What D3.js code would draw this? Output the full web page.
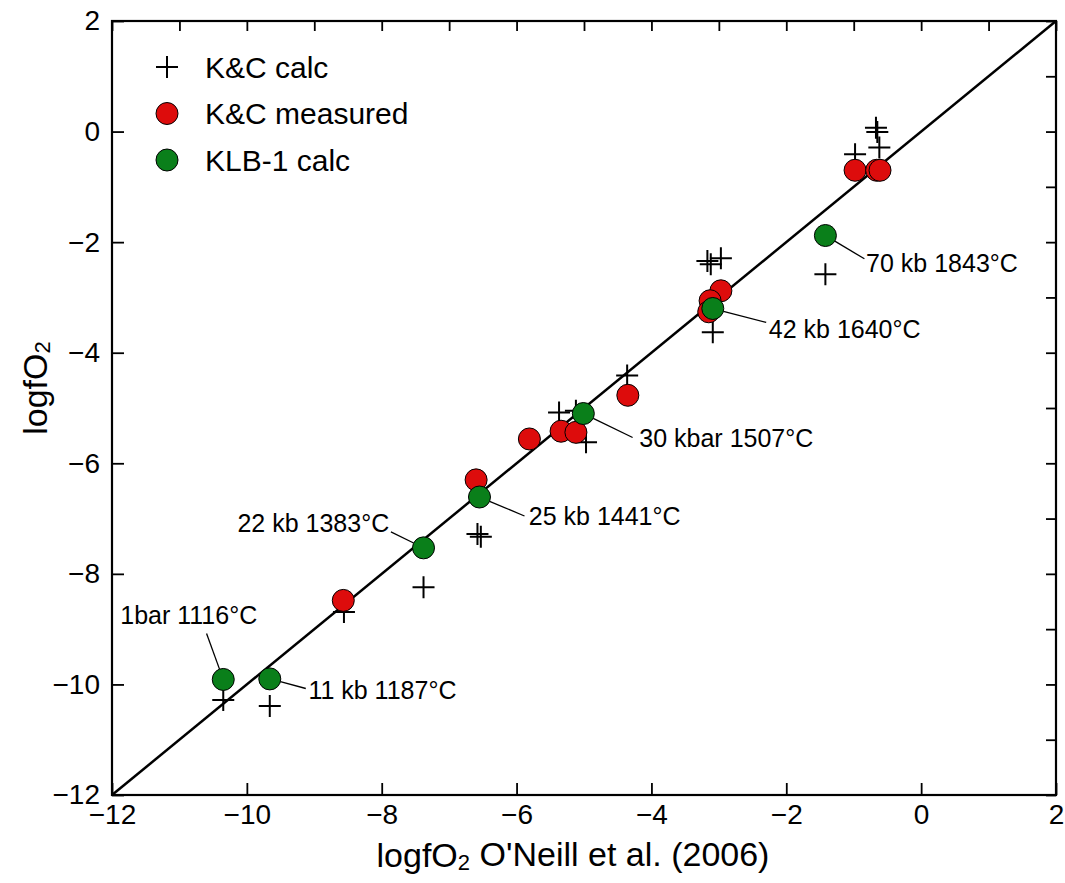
<!DOCTYPE html>
<html>
<head>
<meta charset="utf-8">
<script src="https://cdn.jsdelivr.net/npm/d3@7"></script>
<style>
  body { margin: 0; background: #fff; }
  svg text { font-family: "Liberation Sans", Arial, Helvetica, sans-serif; fill: #000; }
</style>
</head>
<body>
<svg id="chart" width="1065" height="883"></svg>
<script>
const WIDTH = 1065;
const HEIGHT = 883;
const M = { left: 112, right: 9, top: 21, bottom: 88 };

// K&C calc (crosses)
const calcX = [-0.98, -0.67, -0.65, -0.62, -3.17, -3.12, -2.97, -3.09, -1.42,
  -4.36, -5.37, -5.12, -4.97, -6.58, -6.53, -8.56, -7.38, -10.35, -9.66];
const calcY = [-0.41, 0.07, -0.01, -0.29, -2.34, -2.40, -2.29, -3.63, -2.58,
  -4.41, -5.08, -5.05, -5.62, -7.28, -7.33, -8.69, -8.24, -10.28, -10.39];

// K&C measured (red)
const measX = [-0.98, -0.66, -0.61, -2.97, -3.13, -3.15, -4.35, -5.34, -5.12, -5.81, -6.60, -8.57];
const measY = [-0.70, -0.70, -0.70, -2.88, -3.06, -3.26, -4.77, -5.42, -5.44, -5.56, -6.30, -8.48];

// KLB-1 calc (green)
const klbX = [-10.35, -9.66, -7.38, -6.55, -5.01, -3.09, -1.42];
const klbY = [-9.91, -9.90, -7.53, -6.61, -5.10, -3.20, -1.88];
const klbLabels = ["1bar 1116°C", "11 kb 1187°C", "22 kb 1383°C", "25 kb 1441°C",
  "30 kbar 1507°C", "42 kb 1640°C", "70 kb 1843°C"];

const majorTicks = [-12, -10, -8, -6, -4, -2, 0, 2];
const allTicks = [-12, -11, -10, -9, -8, -7, -6, -5, -4, -3, -2, -1, 0, 1, 2];
const legendNames = ["K&C calc", "K&C measured", "KLB-1 calc"];

// label layout: text dx, baseline dy, anchor, leader end dx, dy (pixels from point)
const labelLayout = [
  [-34.5, -55, "middle", -16.7, -46],
  [38.6, 20.3, "start", 36, 9.6],
  [-34.3, -15.7, "end", -32.6, -16],
  [49.3, 28.3, "start", 45, 19],
  [56, 33.7, "start", 49.3, 24],
  [56, 29.3, "start", 53.4, 14],
  [40.7, 36, "start", 39, 23.3]
];

const RED = "#dd0c0c";
const GREEN = "#0a7f1a";
const R = 11;
const CROSS = 11;

const svg = d3.select("#chart");
const x = d3.scaleLinear().domain([-12, 2]).range([M.left, WIDTH - M.right]);
const y = d3.scaleLinear().domain([-12, 2]).range([HEIGHT - M.bottom, M.top]);

const crossPath = (cx, cy, s) =>
  `M${cx - s},${cy}H${cx + s}M${cx},${cy - s}V${cy + s}`;

// 1:1 line
svg.append("line")
  .attr("x1", x(-12)).attr("y1", y(-12))
  .attr("x2", x(2)).attr("y2", y(2))
  .attr("stroke", "#000").attr("stroke-width", 2.5);

// axes
const bottomG = svg.append("g").attr("transform", `translate(0,${y(-12)})`);
bottomG.call(d3.axisBottom(x).tickValues(allTicks).tickSize(-5).tickFormat(""));
bottomG.call(d3.axisBottom(x).tickValues(majorTicks).tickSize(-12).tickPadding(9));

const leftG = svg.append("g").attr("transform", `translate(${x(-12)},0)`);
leftG.call(d3.axisLeft(y).tickValues(allTicks).tickSize(-5).tickFormat(""));
leftG.call(d3.axisLeft(y).tickValues(majorTicks).tickSize(-12).tickPadding(12));

svg.append("g").attr("transform", `translate(0,${y(2)})`)
  .call(d3.axisTop(x).tickValues(allTicks).tickSize(-10).tickFormat(""));
svg.append("g").attr("transform", `translate(${x(2)},0)`)
  .call(d3.axisRight(y).tickValues(allTicks).tickSize(-10).tickFormat(""));

svg.selectAll(".domain").remove();
svg.selectAll(".tick line").attr("stroke", "#000").attr("stroke-width", 1.8);
svg.selectAll(".tick text").style("font-size", "28px")
  .style("font-family", '"Liberation Sans", Arial, sans-serif').attr("fill", "#000");

// frame
svg.append("rect")
  .attr("x", x(-12)).attr("y", y(2))
  .attr("width", x(2) - x(-12)).attr("height", y(-12) - y(2))
  .attr("fill", "none").attr("stroke", "#000").attr("stroke-width", 2.2);

// crosses
svg.append("g").selectAll("path")
  .data(calcX.map((d, i) => [d, calcY[i]]))
  .join("path")
  .attr("d", d => crossPath(x(d[0]), y(d[1]), CROSS))
  .attr("stroke", "#000").attr("stroke-width", 2).attr("fill", "none");

// measured
svg.append("g").selectAll("circle")
  .data(measX.map((d, i) => [d, measY[i]]))
  .join("circle")
  .attr("cx", d => x(d[0])).attr("cy", d => y(d[1])).attr("r", R)
  .attr("fill", RED).attr("stroke", "#000").attr("stroke-width", 1);

// KLB-1 leaders + labels
const klb = klbX.map((d, i) => ({ x: d, y: klbY[i], label: klbLabels[i], lay: labelLayout[i] }));

svg.append("g").selectAll("line")
  .data(klb)
  .join("line")
  .each(function (d) {
    const px = x(d.x), py = y(d.y);
    const a = Math.atan2(d.lay[4], d.lay[3]);
    d3.select(this)
      .attr("x1", px + R * Math.cos(a)).attr("y1", py + R * Math.sin(a))
      .attr("x2", px + d.lay[3]).attr("y2", py + d.lay[4]);
  })
  .attr("stroke", "#000").attr("stroke-width", 1.3);

svg.append("g").selectAll("circle")
  .data(klb)
  .join("circle")
  .attr("cx", d => x(d.x)).attr("cy", d => y(d.y)).attr("r", R)
  .attr("fill", GREEN).attr("stroke", "#000").attr("stroke-width", 1);

svg.append("g").selectAll("text")
  .data(klb)
  .join("text")
  .attr("x", d => x(d.x) + d.lay[0])
  .attr("y", d => y(d.y) + d.lay[1])
  .attr("text-anchor", d => d.lay[2])
  .style("font-size", "25px")
  .text(d => d.label);

// legend
const legend = svg.append("g").attr("transform", "translate(167,67)");
legendNames.forEach((name, i) => {
  const g = legend.append("g").attr("transform", `translate(0,${i * 46.5})`);
  if (i === 0) {
    g.append("path").attr("d", crossPath(0, 0, CROSS))
      .attr("stroke", "#000").attr("stroke-width", 2);
  } else {
    g.append("circle").attr("r", R)
      .attr("fill", i === 1 ? RED : GREEN).attr("stroke", "#000").attr("stroke-width", 1);
  }
  g.append("text").attr("x", 38).attr("y", 10.5)
    .style("font-size", "30px").text(name);
});

// axis titles
const xt = svg.append("text")
  .attr("x", 573).attr("y", 867)
  .attr("text-anchor", "middle")
  .style("font-size", "34px");
xt.append("tspan").text("logfO");
xt.append("tspan").attr("dy", "0.12em").style("font-size", "22px").text("2");
xt.append("tspan").attr("dy", "-0.12em").text(" O'Neill et al. (2006)");

const yt = svg.append("text")
  .attr("transform", "translate(47,388) rotate(-90)")
  .attr("text-anchor", "middle")
  .style("font-size", "34px");
yt.append("tspan").text("logfO");
yt.append("tspan").attr("dy", "0.12em").style("font-size", "22px").text("2");
</script>
</body>
</html>
